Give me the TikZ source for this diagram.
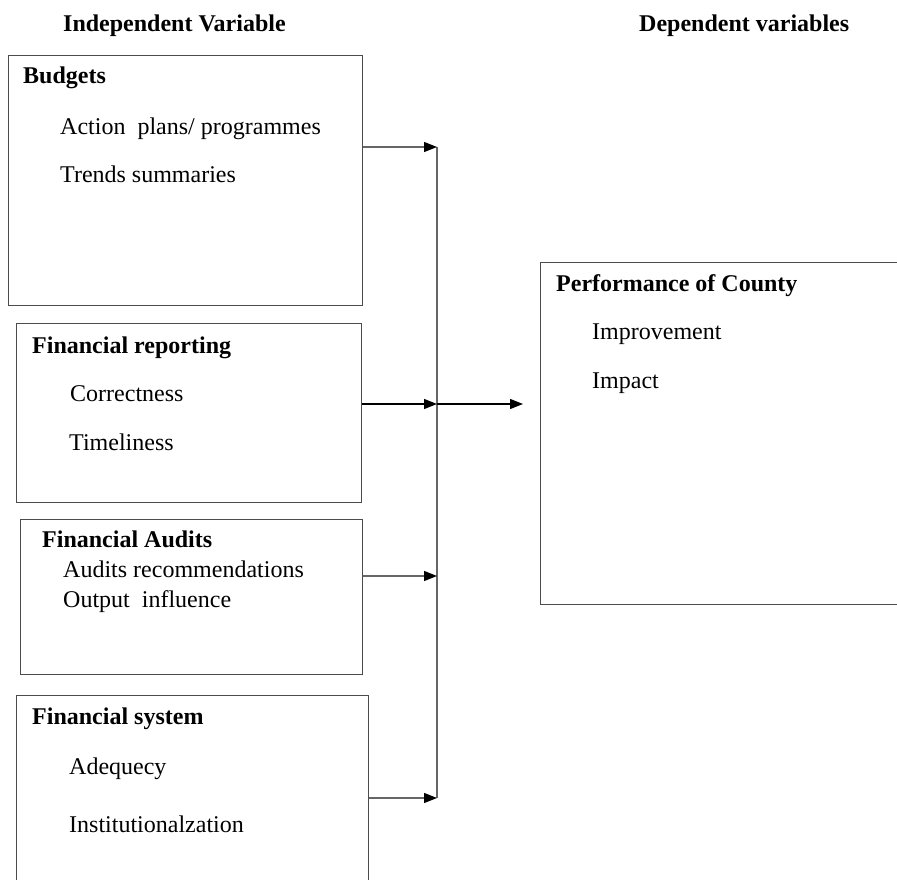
\documentclass[tikz,border=0pt]{standalone}
\usepackage{fontspec}
\setmainfont{Liberation Serif}
\usetikzlibrary{arrows.meta}

\tikzset{
  box/.style={draw=black!70, line width=1.2pt, anchor=north west, inner sep=0pt},
  link/.style={draw=black!60, line width=1.3pt},
  arrow/.style={link, -{Triangle[length=13pt,width=10pt,color=black]}},
  head/.style={font=\fontsize{24}{28}\selectfont\bfseries, anchor=base west, inner sep=0pt},
  item/.style={font=\fontsize{24}{28}\selectfont, anchor=base west, inner sep=0pt},
}

\begin{document}
\begin{tikzpicture}[x=1pt, y=-1pt]

 \useasboundingbox (0,0) rectangle (897,879);

 %%%%%%%%%% Titles %%%%%%%%%%
 \node[head] (indep) at (63,31) {Independent Variable};
 \node[head] (dep) at (639,31) {Dependent variables};

 %%%%%%%%%% Boxes %%%%%%%%%%
 \node[box, minimum width=354pt, minimum height=250pt] (budgets) at (8,55) {};
 \node[box, minimum width=345pt, minimum height=179pt] (reporting) at (16,323) {};
 \node[box, minimum width=342pt, minimum height=155pt] (audits) at (20,519) {};
 \node[box, minimum width=352pt, minimum height=200pt] (system) at (16,695) {};
 \node[box, minimum width=380pt, minimum height=342pt] (perf) at (540,262) {};

 % Budgets
 \node[head] (budgetsT) at (23,83) {Budgets};
 \node[item] (actions) at (60,134) {Action\ \ plans/ programmes};
 \node[item] (trends) at (60,182) {Trends summaries};

 % Financial reporting
 \node[head] (reportingT) at (32,353) {Financial reporting};
 \node[item] (correct) at (70,401) {Correctness};
 \node[item] (timely) at (69,450) {Timeliness};

 % Financial audits
 \node[head] (auditsT) at (42,547) {Financial Audits};
 \node[item] (recomm) at (63,577) {Audits recommendations};
 \node[item] (output) at (63,607) {Output\ \ influence};

 % Financial system
 \node[head] (systemT) at (32,724) {Financial system};
 \node[item] (adequ) at (69,774) {Adequecy};
 \node[item] (instit) at (69,832) {Institutionalzation};

 % Performance
 \node[head] (perfT) at (556,291) {Performance of County};
 \node[item] (improve) at (592,339) {Improvement};
 \node[item] (impact) at (592,388) {Impact};

 %%%%%%%%%% Bus line %%%%%%%%%%
 \coordinate (b1) at (437,147);
 \coordinate (b2) at (437,404);
 \coordinate (b3) at (437,576);
 \coordinate (b4) at (437,798);

 \draw[link] (b1) -- (b4);

 %%%%%%%%%% Arrows %%%%%%%%%%
 \draw[arrow] (budgets.east |- b1) -- (b1);
 \draw[arrow, draw=black] (reporting.east |- b2) -- (b2);
 \draw[arrow] (audits.east |- b3) -- (b3);
 \draw[arrow] (system.east |- b4) -- (b4);
 \draw[arrow, draw=black, shorten >=17pt] (b2) -- (perf.west |- b2);

\end{tikzpicture}
\end{document}
